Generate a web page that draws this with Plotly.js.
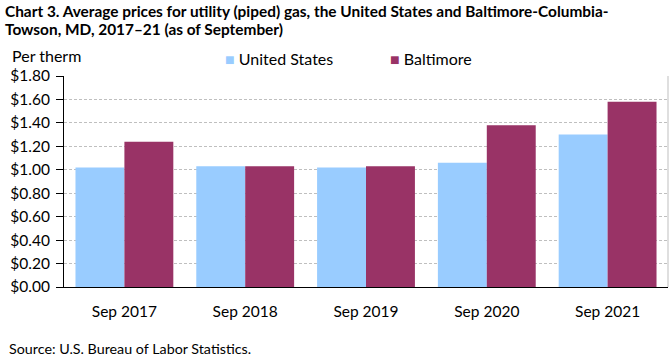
<!DOCTYPE html>
<html><head><meta charset="utf-8">
<script src="https://cdn.plot.ly/plotly-3.0.1.min.js"></script>
<style>body{margin:0;padding:0;background:#fff}#chart{width:670px;height:356px}</style>
</head><body><div id="chart"></div>
<script>
const categories = ["Sep 2017", "Sep 2018", "Sep 2019", "Sep 2020", "Sep 2021"];
const usValues = [1.02, 1.03, 1.02, 1.06, 1.30];
const baltimoreValues = [1.24, 1.03, 1.03, 1.38, 1.58];
const yTickVals = [0, 0.2, 0.4, 0.6, 0.8, 1.0, 1.2, 1.4, 1.6, 1.8];
const yTickText = ["$0.00","$0.20","$0.40","$0.60","$0.80","$1.00","$1.20","$1.40","$1.60","$1.80"];
const titleLines = [
  "Chart 3. Average prices for utility (piped) gas, the United States and Baltimore-Columbia-",
  "Towson, MD, 2017–21 (as of September)"
];

const FONT = "Lato, 'Noto Sans', sans-serif";
const traces = [
  {type:"bar", name:"United States", x:categories, y:usValues, marker:{color:"#99CCFF"}, hoverinfo:"none"},
  {type:"bar", name:"Baltimore", x:categories, y:baltimoreValues, marker:{color:"#993366"}, hoverinfo:"none"}
];
const layout = {
  width:670, height:356,
  margin:{l:64, r:2, t:76, b:69},
  paper_bgcolor:"#fff", plot_bgcolor:"#fff",
  font:{family:FONT, size:15, color:"#000"},
  barmode:"group", bargap:0.19, bargroupgap:0,
  showlegend:false,
  xaxis:{
    showline:true, linecolor:"#000", linewidth:1,
    ticks:"", showgrid:false, ticklabelstandoff:10,
    tickfont:{family:FONT, size:15.5, color:"#000"}, fixedrange:true
  },
  yaxis:{
    range:[0,1.8], tickvals:yTickVals, ticktext:yTickText,
    showline:true, linecolor:"#000", linewidth:1,
    ticks:"outside", ticklen:7, tickcolor:"#000", ticklabelstandoff:3,
    showgrid:true, gridcolor:"#bfbfbf", griddash:"3px,2px", gridwidth:1,
    zeroline:false, tickfont:{family:FONT, size:15.5, color:"#000"}, fixedrange:true
  },
  shapes:[
    {type:"line", xref:"paper", yref:"paper", x0:1, x1:1, y0:0, y1:1, line:{color:"#bfbfbf", width:1}}
  ],
  annotations:[
    {xref:"paper", yref:"paper", x:-0.101, y:1.3104, xanchor:"left", yanchor:"middle", showarrow:false,
     text:"<b>" + titleLines[0] + "</b>", font:{family:FONT, size:15.4, color:"#000"}},
    {xref:"paper", yref:"paper", x:-0.101, y:1.2227, xanchor:"left", yanchor:"middle", showarrow:false,
     text:"<b>" + titleLines[1] + "</b>", font:{family:FONT, size:15.4, color:"#000"}},
    {xref:"paper", yref:"paper", x:-0.0894, y:1.0995, xanchor:"left", yanchor:"middle", showarrow:false,
     text:"Per therm", font:{family:FONT, size:16, color:"#000"}},
    {xref:"paper", yref:"paper", x:0.263, y:1.0806, xanchor:"left", yanchor:"middle", showarrow:false,
     text:"<span style='color:#99CCFF'>■</span> United States", font:{family:FONT, size:16, color:"#000"}},
    {xref:"paper", yref:"paper", x:0.536, y:1.0806, xanchor:"left", yanchor:"middle", showarrow:false,
     text:"<span style='color:#993366'>■</span> Baltimore", font:{family:FONT, size:16, color:"#000"}},
    {xref:"paper", yref:"paper", x:-0.0944, y:-0.293, xanchor:"left", yanchor:"middle", showarrow:false,
     text:"Source: U.S. Bureau of Labor Statistics.", font:{family:FONT, size:14.3, color:"#000"}}
  ]
};
Plotly.newPlot("chart", traces, layout, {staticPlot:true, displayModeBar:false});
</script></body></html>
